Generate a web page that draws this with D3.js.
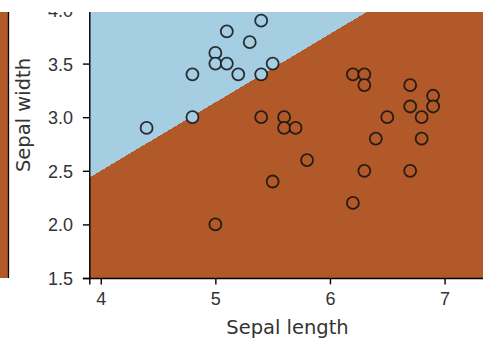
<!DOCTYPE html>
<html>
<head>
<meta charset="utf-8">
<script src="https://cdn.jsdelivr.net/npm/d3@7"></script>
<style>
  body { margin: 0; background: #fff; }
  svg { display: block; font-family: "DejaVu Sans", sans-serif; }
</style>
</head>
<body>
<div id="chart"></div>
<script>
// test points (sepal length, sepal width) and predicted class
var sepalLength = [4.4, 4.8, 4.8, 5.0, 5.0, 5.1, 5.1, 5.2, 5.3, 5.4, 5.4, 5.5,
                   5.4, 5.6, 5.6, 5.7, 5.8, 5.5, 5.0, 6.2, 6.3, 6.3, 6.7, 6.9,
                   6.7, 6.9, 6.8, 6.5, 6.4, 6.8, 6.3, 6.7, 6.2];
var sepalWidth  = [2.9, 3.0, 3.4, 3.6, 3.5, 3.8, 3.5, 3.4, 3.7, 3.9, 3.4, 3.5,
                   3.0, 3.0, 2.9, 2.9, 2.6, 2.4, 2.0, 3.4, 3.4, 3.3, 3.3, 3.2,
                   3.1, 3.1, 3.0, 3.0, 2.8, 2.8, 2.5, 2.5, 2.2];
var labels      = [0, 0, 0, 0, 0, 0, 0, 0, 0, 0, 0, 0,
                   1, 1, 1, 1, 1, 1, 1, 1, 1, 1, 1, 1,
                   1, 1, 1, 1, 1, 1, 1, 1, 1];

// linear decision boundary (x, y at both ends)
var boundaryX = [3.9, 7.4];
var boundaryY = [2.436, 4.67];

var xDomain = [3.9, 7.4];
var yDomain = [1.5, 4.4];
var xTicks = [4, 5, 6, 7];
var yTicks = [1.5, 2.0, 2.5, 3.0, 3.5, 4.0];
var classColors = ["#a6cee3", "#b15928"];

var width = 483, height = 350;

var svg = d3.select("#chart").append("svg")
  .attr("width", width)
  .attr("height", height);

var x = d3.scaleLinear().domain(xDomain).range([89.3, 89.3 + 3.5 * 114.6]);
var y = d3.scaleLinear().domain(yDomain).range([278, 278 - 2.9 * 107.2]);

// edge of the neighbouring subplot
svg.append("rect")
  .attr("x", 0).attr("y", 0)
  .attr("width", 8).attr("height", 278)
  .attr("fill", classColors[1]);
svg.append("line")
  .attr("x1", 8.5).attr("x2", 8.5)
  .attr("y1", 0).attr("y2", 278)
  .attr("stroke", "#000").attr("stroke-width", 1.3);

var g = svg.append("g");

// decision regions
g.append("rect")
  .attr("x", x(xDomain[0])).attr("y", y(yDomain[1]))
  .attr("width", x(xDomain[1]) - x(xDomain[0]))
  .attr("height", y(yDomain[0]) - y(yDomain[1]))
  .attr("fill", classColors[1]);

var upper = [[xDomain[0], yDomain[1]], [boundaryX[0], boundaryY[0]],
             [boundaryX[1], boundaryY[1]], [xDomain[1], yDomain[1]]];
g.append("path")
  .attr("d", d3.line().x(function(d){ return x(d[0]); }).y(function(d){ return y(d[1]); })(upper) + "Z")
  .attr("fill", classColors[0])
  .attr("shape-rendering", "crispEdges");

// points
g.selectAll("circle")
  .data(d3.range(sepalLength.length))
  .enter()
  .append("circle")
  .attr("cx", function(i){ return x(sepalLength[i]); })
  .attr("cy", function(i){ return y(sepalWidth[i]); })
  .attr("r", 6)
  .attr("fill", function(i){ return classColors[labels[i]]; })
  .attr("stroke", "#111")
  .attr("stroke-opacity", 0.85)
  .attr("stroke-width", 1.8);

// axes
var xAxis = svg.append("g")
  .attr("transform", "translate(0,278)")
  .call(d3.axisBottom(x).tickValues(xTicks).tickSize(6.4).tickPadding(8).tickFormat(d3.format("d")));
var yAxis = svg.append("g")
  .attr("transform", "translate(" + x(xDomain[0]) + ",0)")
  .call(d3.axisLeft(y).tickValues(yTicks).tickSize(6.4).tickPadding(10).tickFormat(d3.format(".1f")));

[xAxis, yAxis].forEach(function(a){
  a.select(".domain").attr("stroke", "#000").attr("stroke-width", 1.4);
  a.selectAll(".tick line").attr("stroke", "#000").attr("stroke-width", 1.4);
  a.selectAll(".tick text").attr("fill", "#333").style("font-size", "18px");
});
yAxis.selectAll(".tick text").attr("dy", "0.36em");

svg.append("text")
  .attr("x", 287.5)
  .attr("y", 334)
  .attr("text-anchor", "middle")
  .attr("fill", "#333")
  .style("font-size", "19.5px")
  .text("Sepal length");

svg.append("text")
  .attr("transform", "translate(29.5,115) rotate(-90)")
  .attr("text-anchor", "middle")
  .attr("fill", "#333")
  .style("font-size", "19.5px")
  .text("Sepal width");

// the figure is cut off at the top
svg.append("rect")
  .attr("x", 0).attr("y", 0)
  .attr("width", width).attr("height", 12)
  .attr("fill", "#fff");
</script>
</body>
</html>
